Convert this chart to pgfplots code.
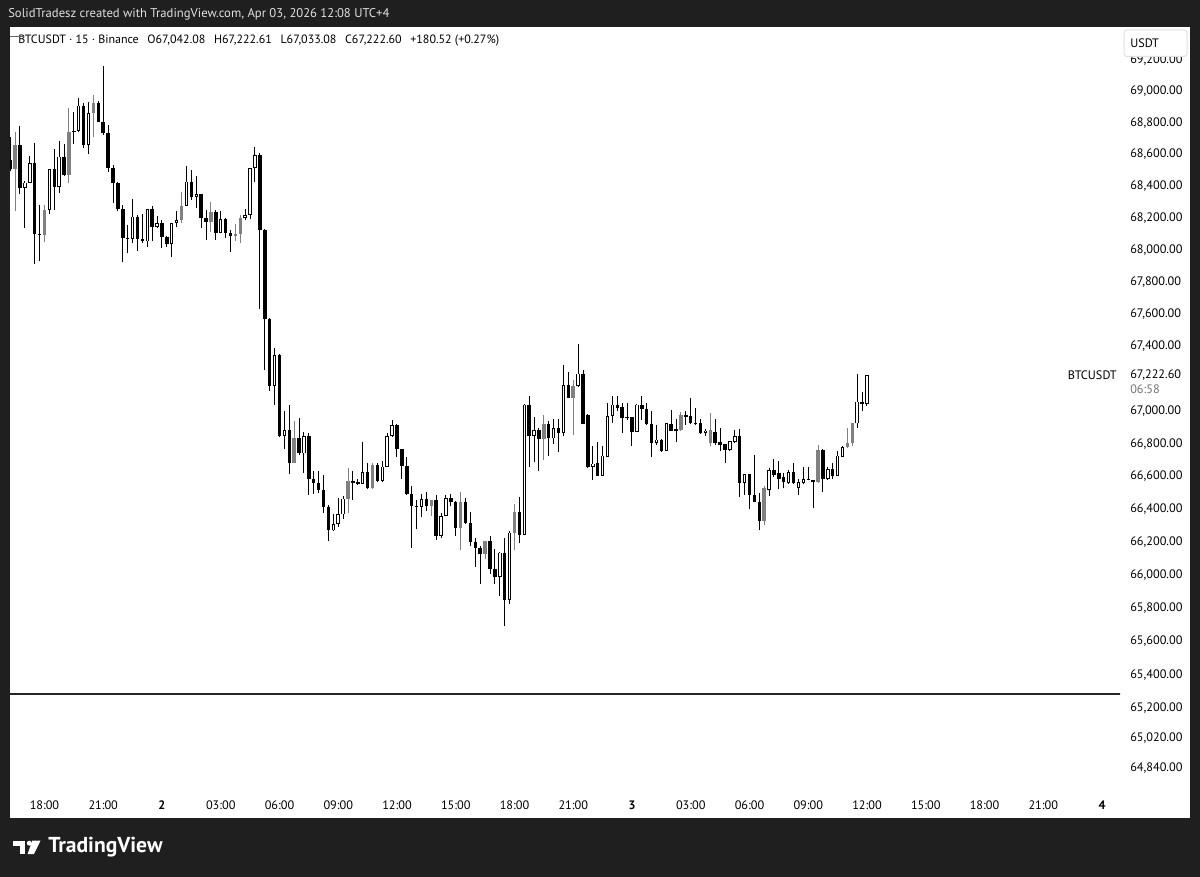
\documentclass[border=0pt]{standalone}
\usepackage{pgfplots}
\pgfplotsset{compat=1.18}
\usepackage{pgfplotstable}
\usepackage{fontspec}
\setmainfont{PT Sans}
\definecolor{tvbg}{HTML}{1F1F1F}
\definecolor{cgray}{HTML}{808080}
\newcommand\lab{\fontsize{9.2pt}{11pt}\selectfont}

\pgfplotstableread{
i t o h l c
0 0 68564 68710 68495 68508
1 2 68508 68740 68245 68660
2 0 68660 68780 68349 68387
3 1 68387 68435 68140 68424
4 1 68424 68589 68418 68545
5 0 68545 68671 67913 68098
6 0 68098 68282 67932 68092
7 2 68092 68282 68048 68251
8 1 68251 68506 68224 68506
9 0 68506 68635 68251 68397
10 1 68397 68685 68356 68585
11 0 68585 68664 68466 68470
12 2 68470 68891 68418 68737
13 0 68748 68866 68664 68737
14 1 68748 68958 68740 68907
15 0 68907 68922 68639 68660
16 1 68660 68929 68602 68859
17 2 68859 68975 68712 68926
18 0 68926 68937 68803 68807
19 0 68807 69163 68723 68734
20 0 68734 68786 68487 68516
21 0 68516 68533 68293 68418
22 0 68418 68428 68240 68257
23 0 68257 68282 67927 68077
24 0 68077 68157 67979 68070
25 1 68070 68320 68042 68209
26 0 68209 68219 67994 68069
27 0 68069 68224 68046 68052
28 1 68052 68257 68021 68257
29 0 68257 68276 68059 68142
30 1 68142 68213 68136 68167
31 0 68167 68188 68011 68080
32 0 68080 68088 68017 68038
33 1 68038 68167 67955 68167
34 1 68167 68240 68146 68184
35 2 68184 68362 68167 68276
36 1 68276 68527 68272 68428
37 0 68428 68502 68314 68334
38 1 68334 68464 68261 68352
39 0 68352 68352 68136 68199
40 0 68199 68251 68063 68171
41 2 68171 68297 68115 68236
42 0 68236 68251 68063 68108
43 1 68108 68240 68105 68192
44 0 68192 68199 68074 68105
45 0 68105 68125 67989 68088
46 2 68088 68163 68052 68100
47 2 68100 68219 68042 68199
48 1 68199 68257 68188 68218
49 1 68218 68512 68192 68512
50 1 68512 68646 68428 68596
51 0 68596 68610 67631 68125
52 0 68125 68128 67256 67569
53 0 67569 67572 67122 67157
54 1 67157 67389 67040 67348
55 0 67348 67352 66840 66845
56 1 66845 66999 66767 66886
57 0 66886 67036 66615 66686
58 2 66686 66937 66682 66839
59 0 66839 66962 66733 66743
60 1 66743 66876 66624 66849
61 0 66849 66866 66489 66590
62 0 66590 66631 66495 66560
63 0 66560 66636 66499 66519
64 0 66519 66610 66379 66413
65 0 66413 66427 66204 66271
66 1 66271 66373 66265 66312
67 1 66312 66468 66292 66367
68 1 66367 66478 66343 66464
69 2 66464 66651 66377 66570
70 0 66570 66631 66458 66562
71 0 66564 66586 66550 66556
72 1 66556 66814 66554 66627
73 0 66627 66682 66525 66529
74 2 66529 66684 66523 66672
75 0 66672 66686 66564 66570
76 1 66570 66698 66564 66661
77 1 66661 66866 66657 66845
78 1 66845 66948 66841 66917
79 0 66917 66920 66722 66767
80 0 66767 66770 66590 66665
81 0 66665 66718 66490 66495
82 0 66495 66543 66163 66421
83 0 66421 66458 66279 66413
84 1 66413 66495 66353 66462
85 0 66462 66503 66387 66421
86 2 66421 66460 66361 66458
87 0 66458 66489 66214 66239
88 1 66239 66377 66225 66361
89 1 66361 66489 66357 66468
90 0 66468 66493 66417 66441
91 0 66441 66448 66239 66285
92 2 66285 66503 66153 66446
93 0 66446 66468 66312 66320
94 0 66320 66381 66178 66198
95 0 66198 66225 66052 66163
96 0 66163 66174 65947 66129
97 2 66129 66208 66097 66208
98 0 66208 66239 66008 66036
99 0 66036 66157 65947 65988
100 1 65988 66143 65875 66137
101 0 66137 66225 65694 65847
102 1 65847 66269 65827 66255
103 2 66255 66433 66153 66381
104 0 66381 66475 66194 66245
105 1 66245 67045 66240 67040
106 0 67040 67091 66661 66849
107 1 66849 66964 66692 66886
108 0 66886 66897 66636 66829
109 2 66829 66979 66702 66921
110 0 66921 66937 66726 66835
111 1 66835 66952 66800 66897
112 0 66897 66952 66747 66866
113 1 66866 67287 66849 67163
114 0 67163 67239 67081 67081
115 2 67081 67194 66855 67153
116 1 67153 67416 67150 67231
117 0 67231 67256 66920 66923
118 0 66979 66985 66650 66657
119 1 66657 66784 66580 66678
120 0 66682 66814 66600 66604
121 1 66604 66788 66600 66726
122 1 66722 67054 66720 66972
123 1 66972 67096 66931 67040
124 0 67040 67096 66999 67020
125 0 67026 67046 66866 66958
126 0 66968 67046 66950 66958
127 0 66964 66964 66788 66876
128 1 66876 67042 66874 67040
129 0 67040 67091 66948 67014
130 0 67014 67046 66917 66921
131 0 66921 66999 66718 66804
132 1 66804 66917 66794 66825
133 0 66825 66829 66753 66759
134 1 66759 66927 66757 66927
135 0 66923 67009 66880 66882
136 0 66891 66952 66814 66882
137 2 66886 66995 66882 66979
138 0 66979 66999 66917 66968
139 0 66972 67081 66923 66927
140 0 66931 67020 66917 66925
141 0 66931 66952 66862 66866
142 1 66866 66891 66845 66882
143 2 66808 66989 66784 66886
144 0 66870 66952 66794 66808
145 0 66814 66897 66759 66794
146 0 66798 66798 66686 66763
147 1 66763 66820 66760 66819
148 1 66814 66886 66804 66849
149 0 66849 66891 66475 66560
150 1 66560 66615 66489 66615
151 0 66615 66615 66401 66489
152 0 66489 66733 66441 66441
153 0 66441 66499 66271 66326
154 2 66326 66539 66306 66529
155 1 66519 66651 66478 66641
156 0 66641 66708 66596 66610
157 0 66621 66698 66523 66586
158 0 66596 66624 66529 66564
159 1 66560 66641 66556 66627
160 0 66627 66686 66556 66560
161 1 66529 66590 66489 66564
162 1 66560 66661 66556 66586
163 0 66586 66657 66576 66580
164 0 66574 66576 66407 66568
165 2 66564 66794 66562 66763
166 0 66763 66765 66503 66584
167 1 66584 66657 66580 66645
168 0 66645 66682 66590 66604
169 1 66604 66759 66600 66726
170 1 66722 66788 66718 66780
171 2 66780 66897 66773 66804
172 2 66804 66931 66788 66927
173 1 66927 67231 66897 67059
174 0 67059 67118 66999 67042
175 1 67042.08 67222.61 67033.08 67222.60
}\candles

\begin{document}
\begin{tikzpicture}
\begin{scope}[x=0.75pt,y=-0.75pt]
\fill[tvbg] (0,0) rectangle (1200,877);
\fill[white] (10,27) rectangle (1190,818);
\node[anchor=west, text=white!88!black, font=\fontsize{9.5pt}{11pt}\selectfont, inner sep=0pt] at (8,14) {SolidTradesz created with TradingView.com, Apr 03, 2026 12:08 UTC+4};
\end{scope}
\begin{axis}[
  at={(7.5pt,-613.5pt)}, anchor=south west,
  scale only axis, width=832.5pt, height=593.25pt,
  xmin=-0.04, xmax=226.68,
  % price scale is logarithmic (as in the reference): ln-transform of prices
  y coord trafo/.code={\begingroup\pgfkeys{/pgf/fpu=true,/pgf/fpu/output format=fixed}\pgfmathparse{10000*ln(#1/67000)}\xdef\mytrafores{\pgfmathresult}\endgroup\let\pgfmathresult\mytrafores},
  y coord inv trafo/.code={\begingroup\pgfkeys{/pgf/fpu=true,/pgf/fpu/output format=fixed}\pgfmathparse{67000*exp(#1/10000)}\xdef\mytrafores{\pgfmathresult}\endgroup\let\pgfmathresult\mytrafores},
  ymin=64545.2, ymax=69406.6,
  axis line style={draw=none},
  major tick length=0pt, minor tick num=0,
  xtick={7,19,...,223},
  xticklabels={18:00,21:00,\textbf{2},03:00,06:00,09:00,12:00,15:00,18:00,21:00,\textbf{3},03:00,06:00,09:00,12:00,15:00,18:00,21:00,\textbf{4}},
  xticklabel style={anchor=center, yshift=9.75pt, font=\lab, inner sep=0pt},
  ytick={69200,69000,68800,68600,68400,68200,68000,67800,67600,67400,67000,66800,66600,66400,66200,66000,65800,65600,65400,65200,65020,64840},
  yticklabels={{69,200.00},{69,000.00},{68,800.00},{68,600.00},{68,400.00},{68,200.00},{68,000.00},{67,800.00},{67,600.00},{67,400.00},{67,000.00},{66,800.00},{66,600.00},{66,400.00},{66,200.00},{66,000.00},{65,800.00},{65,600.00},{65,400.00},{65,200.00},{65,020.00},{64,840.00}},
  yticklabel pos=right,
  yticklabel style={anchor=west, inner sep=0pt, xshift=7.5pt, font=\lab},
]
\addplot[black!85, line width=1.1pt, forget plot] coordinates {(-1,65284) (230,65284)};
\pgfplotsinvokeforeach{0,...,175}{%
  \pgfplotstablegetelem{#1}{t}\of\candles \edef\CT{\pgfplotsretval}%
  \pgfplotstablegetelem{#1}{o}\of\candles \edef\CO{\pgfplotsretval}%
  \pgfplotstablegetelem{#1}{h}\of\candles \edef\CH{\pgfplotsretval}%
  \pgfplotstablegetelem{#1}{l}\of\candles \edef\CL{\pgfplotsretval}%
  \pgfplotstablegetelem{#1}{c}\of\candles \edef\CC{\pgfplotsretval}%
  \ifnum\CT=2 \def\CCOL{cgray}\else\def\CCOL{black}\fi
  \edef\doit{%
    \noexpand\addplot[\CCOL, line width=0.75pt, forget plot] coordinates {(#1,\CL) (#1,\CH)};%
    \noexpand\addplot[\CCOL, line width=2.6pt, forget plot] coordinates {(#1,\CO) (#1,\CC)};%
  }\doit
  \ifnum\CT=1
    \edef\doit{%
      \noexpand\addplot[white, line width=1.1pt, shorten <=0.6pt, shorten >=0.6pt, forget plot] coordinates {(#1,\CO) (#1,\CC)};%
    }\doit
  \fi
}
\end{axis}
\begin{scope}[x=0.75pt,y=-0.75pt]
\node[anchor=west, inner sep=0pt, font=\fontsize{9pt}{11pt}\selectfont] at (18,41) {BTCUSDT · 15 · Binance\hspace{6.5pt}O67,042.08\hspace{6.5pt}H67,222.61\hspace{6.5pt}L67,033.08\hspace{6.5pt}C67,222.60\hspace{6.5pt}+180.52 (+0.27\%)};
\draw[black!60, line width=0.75pt] (10,36.5) -- (24,36.5);
\draw[black!12, fill=white, rounded corners=2.25pt, line width=0.75pt] (1124,30) rectangle (1187,56.5);
\node[anchor=west, font=\lab, inner sep=0pt] at (1130,43) {USDT};
\node[anchor=east, font=\lab, inner sep=0pt] at (1117,375) {BTCUSDT};
\node[anchor=west, font=\lab, inner sep=0pt] at (1130,375) {67,222.60};
\node[anchor=west, font=\lab, inner sep=0pt, text=black!55] at (1130,389) {06:58};
% logo
\fill[white] (12.5,840.7) rectangle (25,845.7);
\fill[white] (19.8,840.7) rectangle (25,854);
\fill[white] (29.3,843.2) circle (2.5);
\fill[white] (32.3,840.7) -- (40.5,840.7) -- (34,854) -- (27.6,854) -- cycle;
\node[anchor=west, text=white, font=\fontsize{16.2pt}{19pt}\selectfont\bfseries, inner sep=0pt] at (48,847.5) {TradingView};
\end{scope}
\end{tikzpicture}
\end{document}
